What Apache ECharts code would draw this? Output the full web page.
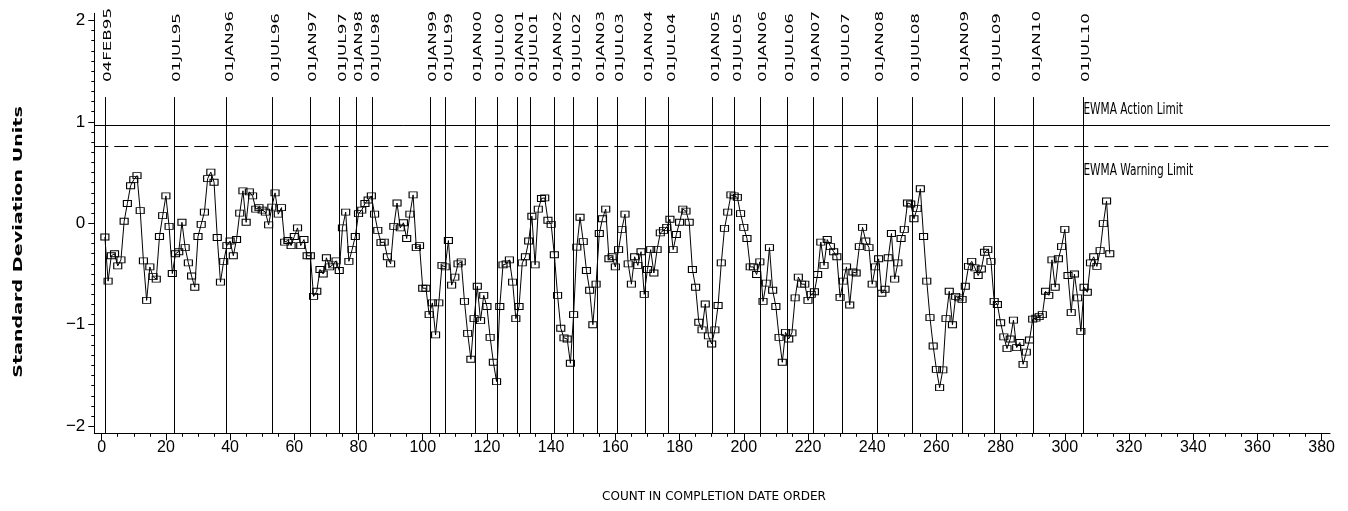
<!DOCTYPE html>
<html>
<head>
<meta charset="utf-8">
<script src="https://cdn.jsdelivr.net/npm/echarts@6/dist/echarts.min.js"></script>
<style>
html,body{margin:0;padding:0;background:#fff;}
#chart{width:1348px;height:511px;}
</style>
</head>
<body>
<div id="chart"></div>
<script>
// EWMA values (standard deviation units), in completion-date count order starting at count 1
const ewmaValues = [
-0.135,-0.57,-0.32,-0.30,-0.42,-0.36,0.02,0.195,0.37,0.43,
0.47,0.125,-0.37,-0.76,-0.43,-0.525,-0.55,-0.13,0.075,0.27,
-0.03,-0.495,-0.30,-0.28,0.01,-0.24,-0.39,-0.52,-0.63,-0.13,
-0.01,0.11,0.44,0.505,0.405,-0.14,-0.58,-0.375,-0.22,-0.175,
-0.32,-0.16,0.10,0.32,0.01,0.31,0.27,0.14,0.155,0.13,
0.11,-0.015,0.16,0.30,0.09,0.155,-0.185,-0.17,-0.22,-0.13,
-0.045,-0.22,-0.16,-0.32,-0.32,-0.72,-0.67,-0.455,-0.5,-0.34,
-0.43,-0.41,-0.37,-0.465,-0.045,0.11,-0.375,-0.26,-0.13,0.095,
0.13,0.195,0.23,0.27,0.09,-0.07,-0.19,-0.185,-0.33,-0.40,
-0.03,0.20,-0.045,0.005,-0.15,0.09,0.28,-0.24,-0.22,-0.64,
-0.64,-0.90,-0.785,-1.10,-0.785,-0.415,-0.43,-0.17,-0.61,-0.53,
-0.40,-0.38,-0.77,-1.085,-1.34,-0.94,-0.62,-0.96,-0.71,-0.82,
-1.125,-1.37,-1.56,-0.82,-0.41,-0.40,-0.36,-0.58,-0.94,-0.82,
-0.39,-0.33,-0.175,0.07,-0.41,0.14,0.245,0.25,0.03,-0.01,
-0.31,-0.71,-1.035,-1.13,-1.14,-1.38,-0.90,-0.235,0.06,-0.18,
-0.465,-0.66,-1.0,-0.60,-0.10,0.045,0.14,-0.35,-0.33,-0.43,
-0.26,-0.06,0.09,-0.40,-0.60,-0.33,-0.415,-0.28,-0.70,-0.455,
-0.26,-0.49,-0.26,-0.095,-0.07,-0.04,0.04,-0.26,-0.11,0.01,
0.14,0.12,0.01,-0.455,-0.63,-0.975,-1.05,-0.795,-1.11,-1.19,
-1.05,-0.81,-0.39,-0.05,0.11,0.28,0.27,0.255,0.095,-0.04,
-0.15,-0.43,-0.43,-0.505,-0.38,-0.77,-0.59,-0.24,-0.66,-0.82,
-1.125,-1.37,-1.075,-1.14,-1.08,-0.735,-0.53,-0.60,-0.60,-0.76,
-0.70,-0.675,-0.505,-0.185,-0.415,-0.16,-0.23,-0.28,-0.33,-0.73,
-0.57,-0.43,-0.805,-0.48,-0.49,-0.23,-0.04,-0.175,-0.24,-0.60,
-0.43,-0.35,-0.69,-0.65,-0.34,-0.10,-0.55,-0.39,-0.15,-0.06,
0.20,0.19,0.045,0.145,0.34,-0.13,-0.57,-0.93,-1.21,-1.44,
-1.62,-1.445,-0.94,-0.67,-1.00,-0.72,-0.735,-0.75,-0.62,-0.425,
-0.375,-0.44,-0.515,-0.45,-0.285,-0.26,-0.375,-0.77,-0.80,-0.98,
-1.12,-1.235,-1.14,-0.955,-1.225,-1.175,-1.39,-1.27,-1.15,-0.945,
-0.935,-0.92,-0.90,-0.67,-0.71,-0.36,-0.63,-0.35,-0.23,-0.06,
-0.515,-0.88,-0.50,-0.735,-1.065,-0.63,-0.68,-0.39,-0.33,-0.425,
-0.27,-0.003,0.22,-0.30
];

// Date reference lines: labels and the count at which each falls
const dateLabels = ["04FEB95","01JUL95","01JAN96","01JUL96","01JAN97","01JUL97","01JAN98","01JUL98",
"01JAN99","01JUL99","01JAN00","01JUL00","01JAN01","01JUL01","01JAN02","01JUL02","01JAN03","01JUL03",
"01JAN04","01JUL04","01JAN05","01JUL05","01JAN06","01JUL06","01JAN07","01JUL07","01JAN08","01JUL08",
"01JAN09","01JUL09","01JAN10","01JUL10"];
const dateCounts = [1,22.5,38.9,53.2,64.9,74,79.2,84.3,
102.3,107.1,116.3,123.1,129.4,133.5,141,146.9,154.5,160.5,
169.3,176.6,190.3,197,205,213.5,221.6,230.8,241.5,252.5,
267.9,277.9,290.2,305.7];

// Limits
const actionLimit = 0.968;
const warningLimit = 0.755;
const limitLabels = ["EWMA Action Limit","EWMA Warning Limit"];
const limitLabelPos = [[305.8,1.116],[305.8,0.515]];

// Axis ticks
const xMajorTicks = [0,20,40,60,80,100,120,140,160,180,200,220,240,260,280,300,320,340,360,380];
const xMinorTicks = [];
for (let v = 0; v <= 380; v += 5) xMinorTicks.push(v);
const yMajorTicks = [-2,-1,0,1,2];
const yMinorTicks = [];
for (let k = -20; k <= 20; k++) yMinorTicks.push(k/10);

const X_MIN = -2.3, X_MAX = 382.6, Y_MIN = -2.07, Y_MAX = 2.07;
const LINE_TOP = 1.244, LABEL_Y = 1.392;

const chart = echarts.init(document.getElementById('chart'), null, {renderer:'canvas'});

const seriesData = ewmaValues.map((v,i) => [i+1, v]);

const vLines = dateCounts.map(c => [{coord:[c, Y_MIN]},{coord:[c, LINE_TOP]}]);

const option = {
  animation: false,
  backgroundColor: '#fff',
  grid: {left: 94.3, right: 18, top: 13.3, bottom: 77.7, containLabel: false},
  xAxis: [
    {type:'value', min:X_MIN, max:X_MAX, position:'bottom',
     axisLine:{show:true, onZero:false, lineStyle:{color:'#000', width:1}},
     axisTick:{show:true, customValues:xMajorTicks, length:7, lineStyle:{color:'#000'}},
     axisLabel:{show:true, customValues:xMajorTicks, margin:6, color:'#000', fontFamily:'Liberation Sans', fontSize:16},
     splitLine:{show:false}},
    {type:'value', min:X_MIN, max:X_MAX, position:'bottom', gridIndex:0,
     axisLine:{show:false, onZero:false},
     axisTick:{show:true, customValues:xMinorTicks, length:3.5, lineStyle:{color:'#000'}},
     axisLabel:{show:false},
     splitLine:{show:false}}
  ],
  yAxis: [
    {type:'value', min:Y_MIN, max:Y_MAX, position:'left',
     axisLine:{show:true, onZero:false, lineStyle:{color:'#000', width:1}},
     axisTick:{show:true, customValues:yMajorTicks, length:6, lineStyle:{color:'#000'}},
     axisLabel:{show:true, customValues:yMajorTicks, margin:9, color:'#000', fontFamily:'Liberation Sans', fontSize:17,
       formatter: v => String(v).replace('-', '\u2212')},
     splitLine:{show:false}},
    {type:'value', min:Y_MIN, max:Y_MAX, position:'left', gridIndex:0,
     axisLine:{show:false, onZero:false},
     axisTick:{show:true, customValues:yMinorTicks, length:3, lineStyle:{color:'#000'}},
     axisLabel:{show:false},
     splitLine:{show:false}}
  ],
  series: [
    {
      type:'line', name:'EWMA', xAxisIndex:0, yAxisIndex:0,
      data: seriesData,
      symbol:'rect', symbolSize:[8,6], showAllSymbol:true,
      lineStyle:{color:'#000', width:1},
      itemStyle:{color:'rgba(255,255,255,0)', borderColor:'#000', borderWidth:1},
      silent:true, z:5,
      markLine:{
        silent:true, symbol:['none','none'], animation:false,
        label:{show:false},
        lineStyle:{color:'#000', width:1, type:'solid'},
        emphasis:{disabled:true},
        data: vLines.concat([
          {yAxis: actionLimit, lineStyle:{type:'solid', color:'#000', width:1}},
          {yAxis: warningLimit, lineStyle:{type:[14,6], color:'#000', width:1}}
        ])
      }
    },
    {
      type:'custom', name:'dateLabels', xAxisIndex:0, yAxisIndex:0, clip:false, silent:true,
      data: dateCounts.map(c => [c]),
      encode:{x:0},
      renderItem: function(params, api){
        const p = api.coord([api.value(0), LABEL_Y]);
        return {type:'text', x:p[0]+3.5, y:p[1], rotation:Math.PI/2, scaleX:1.52, scaleY:1,
          style:{text:dateLabels[params.dataIndex], fill:'#000', font:'11px "DejaVu Sans"', align:'left', verticalAlign:'middle'}};
      }
    },
    {
      type:'custom', name:'limitLabels', xAxisIndex:0, yAxisIndex:0, clip:false, silent:true,
      data: limitLabelPos,
      encode:{x:0, y:1},
      renderItem: function(params, api){
        const p = api.coord([api.value(0), api.value(1)]);
        return {type:'text', x:p[0], y:p[1], scaleX:0.66, scaleY:1,
          style:{text:limitLabels[params.dataIndex], fill:'#000', font:'16px "DejaVu Sans"', align:'left', verticalAlign:'middle'}};
      }
    }
  ],
  graphic: [
    {type:'text', x:19, y:242, rotation:Math.PI/2, scaleX:1.47, silent:true,
     style:{text:'Standard Deviation Units', fill:'#000', font:'bold 13px "DejaVu Sans"', align:'center', verticalAlign:'middle'}},
    {type:'text', x:714, y:497, silent:true,
     style:{text:'COUNT IN COMPLETION DATE ORDER', fill:'#000', font:'12px "DejaVu Sans"', align:'center', verticalAlign:'middle'}}
  ]
};
chart.setOption(option);
</script>
</body>
</html>
